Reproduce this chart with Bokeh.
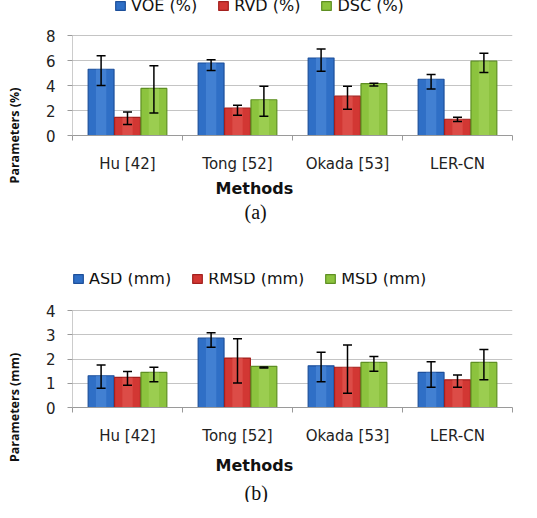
from bokeh.plotting import figure
from bokeh.models import (ColumnDataSource, Whisker, TeeHead, FixedTicker, Legend,
                          LegendItem, Title, Range1d)
from bokeh.layouts import column
from bokeh.embed import file_html
from bokeh.resources import INLINE

# ---------------- data ----------------
methods = ["Hu [42]", "Tong [52]", "Okada [53]", "LER-CN"]

# panel (a)
voe = [5.3, 5.8, 6.2, 4.5]
voe_lo = [4.0, 5.2, 5.15, 3.72]
voe_hi = [6.38, 6.06, 6.93, 4.88]
rvd = [1.45, 2.2, 3.15, 1.3]
rvd_lo = [0.89, 1.62, 2.1, 1.13]
rvd_hi = [1.89, 2.43, 3.95, 1.46]
dsc = [3.77, 2.86, 4.15, 5.95]
dsc_lo = [1.81, 1.54, 3.97, 5.04]
dsc_hi = [5.58, 3.95, 4.18, 6.58]

# panel (b)
asd = [1.31, 2.86, 1.72, 1.45]
asd_lo = [0.79, 2.48, 1.06, 0.83]
asd_hi = [1.75, 3.08, 2.28, 1.89]
rmsd = [1.24, 2.04, 1.66, 1.14]
rmsd_lo = [0.92, 1.01, 0.59, 0.83]
rmsd_hi = [1.48, 2.83, 2.58, 1.34]
msd = [1.45, 1.70, 1.86, 1.86]
msd_lo = [1.06, 1.63, 1.49, 1.14]
msd_hi = [1.66, 1.67, 2.10, 2.39]

labels_a = ["VOE (%)", "RVD (%)", "DSC (%)"]
labels_b = ["ASD (mm)", "RMSD (mm)", "MSD (mm)"]
yticks_a = [0, 2, 4, 6, 8]
yticks_b = [0, 1, 2, 3, 4]

# ---------------- style ----------------
EDGE = ["#1d4f9a", "#a3201e", "#5e8f23"]
MID = ["#2f6fc6", "#d23733", "#8cc33e"]
LIGHT = ["#5a95e0", "#e86560", "#acd966"]
OFFS = [-0.24, 0.0, 0.24]
BW = 0.235
GRID = "#c4c4c4"
AXIS = "#9a9a9a"


def make_panel(series, labels, yticks, ylabel, caption, height, frame_h, data_h,
               leg_x, leg_y, m_standoff, c_standoff):
    xs = [i + 0.5 for i in range(len(methods))]
    y_end = yticks[-1] * frame_h / data_h   # head-room above the top tick for the legend
    p = figure(width=521, height=height, output_backend="svg", toolbar_location=None,
               title=None,
               x_range=Range1d(0, len(methods)), y_range=Range1d(yticks[0], y_end),
               min_border_left=72, min_border_right=9, min_border_top=0,
               min_border_bottom=height - frame_h)
    p.outline_line_color = None
    p.xgrid.grid_line_color = None
    p.ygrid.grid_line_color = GRID
    p.ygrid.ticker = FixedTicker(ticks=yticks)

    items = []
    for k, (vals, lo, hi) in enumerate(series):
        bx = [x + OFFS[k] for x in xs]
        src = ColumnDataSource(dict(x=bx, top=vals, lo=lo, hi=hi))
        r = p.vbar(x="x", top="top", width=BW, source=src,
                   fill_color=MID[k], line_color=EDGE[k], line_width=1.2)
        p.vbar(x="x", top="top", width=BW * 0.4, source=src,
               fill_color=LIGHT[k], line_color=None, fill_alpha=0.45)
        w = Whisker(base="x", lower="lo", upper="hi", source=src, level="overlay",
                    line_color="black", line_width=1.5,
                    upper_head=TeeHead(size=9, line_color="black", line_width=1.5),
                    lower_head=TeeHead(size=9, line_color="black", line_width=1.5))
        p.add_layout(w)
        items.append(LegendItem(label=labels[k], renderers=[r]))

    # y axis line only over the tick span
    p.segment(x0=[0], y0=[yticks[0]], x1=[0], y1=[yticks[-1]],
              line_color=AXIS, line_width=1)

    xax = p.xaxis[0]
    xax.ticker = FixedTicker(ticks=xs, minor_ticks=list(range(len(methods) + 1)))
    xax.major_label_overrides = {x: m for x, m in zip(xs, methods)}
    xax.major_tick_out = 0
    xax.major_tick_in = 0
    xax.minor_tick_out = 5
    xax.minor_tick_in = 0
    xax.minor_tick_line_color = AXIS
    xax.axis_line_color = AXIS
    xax.major_label_standoff = 14
    xax.major_label_text_font = "DejaVu Sans"
    xax.major_label_text_font_size = "15px"
    xax.major_label_text_color = "#222222"

    yax = p.yaxis[0]
    yax.ticker = FixedTicker(ticks=yticks)
    yax.major_tick_out = 5
    yax.major_tick_in = 0
    yax.major_tick_line_color = AXIS
    yax.axis_line_color = None
    yax.major_label_standoff = 12
    yax.major_label_text_font = "DejaVu Sans"
    yax.major_label_text_font_size = "15px"
    yax.major_label_text_color = "#222222"
    yax.axis_label = ylabel
    yax.axis_label_align = "start"
    yax.axis_label_text_font = "Open Sans"
    yax.axis_label_text_font_style = "bold"
    yax.axis_label_text_font_size = "12.5px"
    yax.axis_label_text_color = "#111111"
    yax.axis_label_standoff = 20

    legend = Legend(items=items, orientation="horizontal", location=(leg_x, leg_y),
                    margin=0, padding=0, spacing=20, label_standoff=5,
                    glyph_width=12, glyph_height=11, label_height=16,
                    label_text_font="DejaVu Sans", label_text_font_size="16px",
                    label_text_color="#111111", border_line_color=None,
                    background_fill_alpha=0)
    p.add_layout(legend, "center")

    p.add_layout(Title(text="Methods", align="left", offset=143, vertical_align="top",
                       standoff=m_standoff, text_font="DejaVu Sans",
                       text_font_style="bold", text_font_size="16px",
                       text_color="#111111"), "below")
    p.add_layout(Title(text=caption, align="left", offset=172, vertical_align="top",
                       standoff=c_standoff, text_font="Liberation Serif",
                       text_font_style="normal", text_font_size="20px",
                       text_color="#111111"), "below")
    return p


pa = make_panel([(voe, voe_lo, voe_hi), (rvd, rvd_lo, rvd_hi), (dsc, dsc_lo, dsc_hi)],
                labels_a, yticks_a, "Parameters (%)", "(a)",
                height=273, frame_h=135, data_h=100, leg_x=42, leg_y=120,
                m_standoff=6, c_standoff=-4)
pb = make_panel([(asd, asd_lo, asd_hi), (rmsd, rmsd_lo, rmsd_hi), (msd, msd_lo, msd_hi)],
                labels_b, yticks_b, "Parameters (mm)", "(b)",
                height=229, frame_h=134, data_h=97, leg_x=0, leg_y=119,
                m_standoff=16, c_standoff=-6)

layout = column(pa, pb, spacing=0)
open("out.html", "w").write(file_html(layout, INLINE))
